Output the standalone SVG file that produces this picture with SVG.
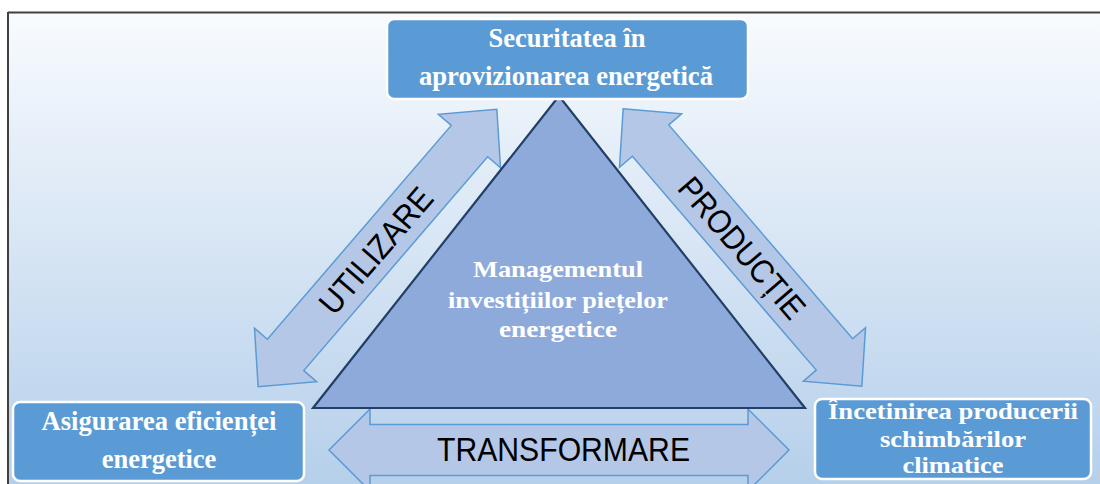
<svg xmlns="http://www.w3.org/2000/svg" width="1100" height="484" viewBox="0 0 1100 484">
  <defs>
    <linearGradient id="bg" x1="0" y1="0" x2="0" y2="1">
      <stop offset="0" stop-color="#f8fbfe"/>
      <stop offset="0.4" stop-color="#dde9f6"/>
      <stop offset="1" stop-color="#b4cfea"/>
    </linearGradient>
    <path id="diag" d="M -183,0 L -141,-41 L -141,-24 L 141,-24 L 141,-41 L 183,0 L 141,41 L 141,24 L -141,24 L -141,41 Z"/>
  </defs>
  <style>
    .arrow { fill: #b4c7e7; stroke: #5b9bd5; stroke-width: 1.5; }
    .box { fill: #5b9bd5; stroke: #ffffff; stroke-width: 2.5; }
    .nt { font-family: "Liberation Serif", "Times New Roman", serif; font-weight: bold; font-size: 26.5px; fill: #ffffff; text-anchor: middle; }
    .nts { font-family: "Liberation Serif", "Times New Roman", serif; font-weight: bold; font-size: 24px; fill: #ffffff; text-anchor: middle; }
    .tt { font-family: "Liberation Serif", "Times New Roman", serif; font-weight: bold; font-size: 23.5px; fill: #ffffff; text-anchor: middle; }
    .al { font-family: "Liberation Sans", Arial, sans-serif; font-size: 33px; fill: #000000; text-anchor: middle; }
  </style>
  <rect x="0" y="0" width="1100" height="484" fill="#ffffff"/>
  <rect x="8" y="12.5" width="1100" height="480" fill="url(#bg)"/>
  <line x1="8" y1="12.5" x2="1100" y2="12.5" stroke="#404040" stroke-width="2"/>
  <line x1="8" y1="12" x2="8" y2="484" stroke="#404040" stroke-width="2"/>

  <g id="connectors">
    <g id="arrow-utilizare" transform="translate(377.5,248) rotate(-49.3)">
      <use href="#diag" class="arrow"/>
      <text class="al" x="-3" y="12" textLength="155" lengthAdjust="spacingAndGlyphs">UTILIZARE</text>
    </g>
    <g id="arrow-productie" transform="translate(742.5,247.5) rotate(49.3)">
      <use href="#diag" class="arrow"/>
      <text class="al" x="0" y="12" textLength="175" lengthAdjust="spacingAndGlyphs">PRODUCȚIE</text>
    </g>
    <g id="arrow-transformare">
      <path class="arrow" d="M 329,450 L 370,409 L 370,424.5 L 748,424.5 L 748,409 L 789,450 L 748,491 L 748,475.5 L 370,475.5 L 370,491 Z"/>
      <text class="al" x="563.5" y="461" textLength="253" lengthAdjust="spacingAndGlyphs">TRANSFORMARE</text>
    </g>
  </g>

  <g id="node-center">
    <polygon points="559,96 313,408 805,408" fill="#8eaadb" stroke="#223f66" stroke-width="2.2" stroke-linejoin="miter"/>
    <text class="tt" x="558" y="277" textLength="170" lengthAdjust="spacingAndGlyphs">Managementul</text>
    <text class="tt" x="558" y="308" textLength="220" lengthAdjust="spacingAndGlyphs">investițiilor piețelor</text>
    <text class="tt" x="558" y="337" textLength="118" lengthAdjust="spacingAndGlyphs">energetice</text>
  </g>

  <g id="node-securitate">
    <rect class="box" x="387" y="19" width="361" height="80" rx="7"/>
    <text class="nt" x="567" y="47">Securitatea în</text>
    <text class="nt" x="566" y="85" textLength="294" lengthAdjust="spacingAndGlyphs">aprovizionarea energetică</text>
  </g>

  <g id="node-eficienta">
    <rect class="box" x="13" y="402" width="291" height="79" rx="7"/>
    <text class="nt" x="159" y="430" textLength="235" lengthAdjust="spacingAndGlyphs">Asigurarea eficienței</text>
    <text class="nt" x="159" y="468">energetice</text>
  </g>

  <g id="node-climatice">
    <rect class="box" x="815" y="399" width="276" height="80" rx="7"/>
    <text class="nts" x="953" y="419" textLength="250" lengthAdjust="spacingAndGlyphs">Încetinirea producerii</text>
    <text class="nts" x="953" y="447" textLength="146" lengthAdjust="spacingAndGlyphs">schimbărilor</text>
    <text class="nts" x="953" y="473" textLength="101" lengthAdjust="spacingAndGlyphs">climatice</text>
  </g>
</svg>
